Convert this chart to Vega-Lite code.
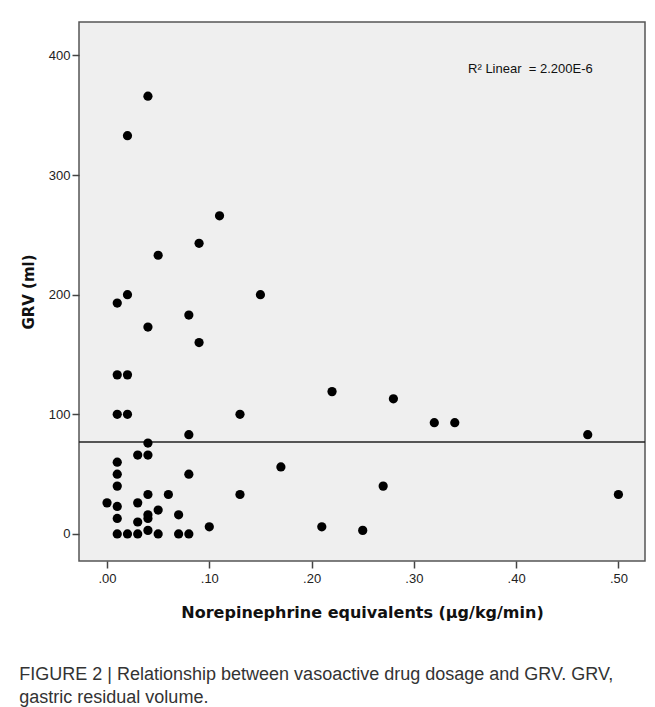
{
  "$schema": "https://vega.github.io/schema/vega-lite/v6.json",
  "width": 566,
  "height": 539,
  "autosize": {"type": "none"},
  "padding": {"left": 79, "top": 22, "right": 10, "bottom": 146},
  "background": "white",
  "title": {
    "text": ["FIGURE 2 | Relationship between vasoactive drug dosage and GRV. GRV,", "gastric residual volume."],
    "orient": "bottom",
    "anchor": "start",
    "frame": "bounds",
    "offset": 46,
    "dx": -2,
    "font": "Liberation Sans",
    "fontSize": 18,
    "fontWeight": "normal",
    "color": "#333333",
    "lineHeight": 23
  },
  "config": {
    "view": {"fill": "#efefef", "stroke": "#555555", "strokeWidth": 1.5},
    "axis": {
      "grid": false,
      "domain": false,
      "tickColor": "#444444",
      "tickWidth": 1.5,
      "tickSize": 7,
      "labelFont": "Liberation Sans",
      "labelFontSize": 13,
      "labelColor": "#222222",
      "titleFont": "DejaVu Sans",
      "titleFontWeight": "bold",
      "titleColor": "#111111"
    }
  },
  "data": {
    "values": [
      {"ne": 0.00, "grv": 26},
      {"ne": 0.01, "grv": 100},
      {"ne": 0.02, "grv": 100},
      {"ne": 0.13, "grv": 100},
      {"ne": 0.08, "grv": 83},
      {"ne": 0.04, "grv": 76},
      {"ne": 0.03, "grv": 66},
      {"ne": 0.04, "grv": 66},
      {"ne": 0.01, "grv": 60},
      {"ne": 0.01, "grv": 50},
      {"ne": 0.08, "grv": 50},
      {"ne": 0.17, "grv": 56},
      {"ne": 0.01, "grv": 40},
      {"ne": 0.04, "grv": 33},
      {"ne": 0.06, "grv": 33},
      {"ne": 0.13, "grv": 33},
      {"ne": 0.01, "grv": 23},
      {"ne": 0.03, "grv": 26},
      {"ne": 0.05, "grv": 20},
      {"ne": 0.04, "grv": 16},
      {"ne": 0.07, "grv": 16},
      {"ne": 0.04, "grv": 13},
      {"ne": 0.01, "grv": 13},
      {"ne": 0.03, "grv": 10},
      {"ne": 0.10, "grv": 6},
      {"ne": 0.21, "grv": 6},
      {"ne": 0.04, "grv": 3},
      {"ne": 0.01, "grv": 0},
      {"ne": 0.02, "grv": 0},
      {"ne": 0.03, "grv": 0},
      {"ne": 0.05, "grv": 0},
      {"ne": 0.07, "grv": 0},
      {"ne": 0.08, "grv": 0},
      {"ne": 0.22, "grv": 119},
      {"ne": 0.28, "grv": 113},
      {"ne": 0.32, "grv": 93},
      {"ne": 0.34, "grv": 93},
      {"ne": 0.47, "grv": 83},
      {"ne": 0.27, "grv": 40},
      {"ne": 0.50, "grv": 33},
      {"ne": 0.25, "grv": 3},
      {"ne": 0.04, "grv": 366},
      {"ne": 0.02, "grv": 333},
      {"ne": 0.11, "grv": 266},
      {"ne": 0.09, "grv": 243},
      {"ne": 0.05, "grv": 233},
      {"ne": 0.02, "grv": 200},
      {"ne": 0.01, "grv": 193},
      {"ne": 0.15, "grv": 200},
      {"ne": 0.08, "grv": 183},
      {"ne": 0.09, "grv": 160},
      {"ne": 0.04, "grv": 173},
      {"ne": 0.01, "grv": 133},
      {"ne": 0.02, "grv": 133}
    ]
  },
  "layer": [
    {
      "data": {"values": [{"fit": 76.8}]},
      "mark": {"type": "rule", "color": "#222222", "strokeWidth": 1.5},
      "encoding": {"y": {"field": "fit", "type": "quantitative"}}
    },
    {
      "mark": {"type": "circle", "size": 85, "color": "#000000", "opacity": 1},
      "encoding": {
        "x": {
          "field": "ne",
          "type": "quantitative",
          "scale": {"domain": [-0.0274, 0.526], "nice": false, "zero": false},
          "axis": {
            "title": "Norepinephrine equivalents (μg/kg/min)",
            "titleFontSize": 16,
            "values": [0, 0.1, 0.2, 0.3, 0.4, 0.5],
            "labelExpr": "replace(format(datum.value, '.2f'), '0.', '.')",
            "labelPadding": 4,
            "titlePadding": 19
          }
        },
        "y": {
          "field": "grv",
          "type": "quantitative",
          "scale": {"domain": [-22.6, 428], "nice": false, "zero": false},
          "axis": {
            "title": "GRV (ml)",
            "titleFontSize": 15,
            "values": [0, 100, 200, 300, 400],
            "labelPadding": 2,
            "titlePadding": 12
          }
        }
      }
    },
    {
      "data": {"values": [{"label": "R² Linear \u00a0= 2.200E-6"}]},
      "mark": {"type": "text", "align": "left", "baseline": "middle", "font": "Liberation Sans", "fontSize": 13, "color": "#111111"},
      "encoding": {
        "x": {"datum": 0.353, "type": "quantitative"},
        "y": {"datum": 389, "type": "quantitative"},
        "text": {"field": "label"}
      }
    }
  ]
}
